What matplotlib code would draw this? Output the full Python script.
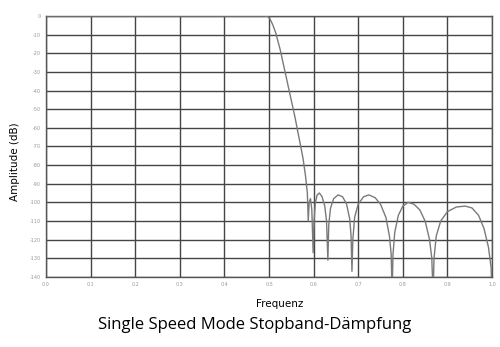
import numpy as np
import matplotlib.pyplot as plt

# Frequenzgang (normierte Frequenz, Amplitude in dB)
freq = [0.0, 0.49, 0.497, 0.502, 0.508, 0.515, 0.525, 0.536, 0.547, 0.558, 0.567,
        0.576, 0.582, 0.586, 0.588, 0.590, 0.593, 0.596, 0.599,
        0.601, 0.604, 0.608, 0.613, 0.619, 0.625, 0.629, 0.632,
        0.634, 0.638, 0.645, 0.655, 0.665, 0.674, 0.681, 0.684, 0.686,
        0.688, 0.692, 0.700, 0.712, 0.724, 0.738, 0.750, 0.762, 0.770, 0.774, 0.776,
        0.778, 0.782, 0.790, 0.800, 0.812, 0.825, 0.838, 0.850, 0.860, 0.865, 0.868,
        0.870, 0.875, 0.885, 0.900, 0.920, 0.940, 0.955, 0.970, 0.982, 0.992, 0.998, 1.0]
amp_db = [0, 0, -0.3, -1.5, -4.5, -9, -18, -30, -42, -54, -65,
          -76, -86, -95, -110, -100, -98, -104, -127,
          -110, -100, -96, -95, -97, -102, -110, -131,
          -112, -103, -98, -96, -97, -101, -109, -118, -137,
          -120, -108, -101, -97, -96, -97.5, -101, -108, -118, -128, -150,
          -128, -116, -107, -102, -100, -101, -104, -110, -120, -130, -150,
          -130, -118, -110, -105, -102.5, -102, -103, -107, -114, -124, -135, -150]

x_ticks = [0.0, 0.1, 0.2, 0.3, 0.4, 0.5, 0.6, 0.7, 0.8, 0.9, 1.0]
y_ticks = [0, -10, -20, -30, -40, -50, -60, -70, -80, -90, -100, -110, -120, -130, -140]

fig = plt.figure(figsize=(5.0, 3.47), dpi=100)
ax = fig.add_axes([0.092, 0.202, 0.892, 0.752])

ax.plot(freq, amp_db, color='#7a7a7a', lw=1.0, zorder=3)

ax.set_xlim(0, 1.0)
ax.set_ylim(-140, 0)
ax.set_xticks(x_ticks)
ax.set_yticks(y_ticks)
ax.set_xticklabels([f'{v:.1f}' for v in x_ticks])
ax.set_yticklabels([str(v) for v in y_ticks])
ax.tick_params(labelsize=3.5, labelcolor='#999999', length=0, pad=4)
ax.grid(True, color='#454545', lw=1.0, zorder=0)
for s in ax.spines.values():
    s.set_color('#555555')
    s.set_linewidth(1.0)

ax.set_xlabel('Frequenz', fontsize=7.5)
ax.xaxis.set_label_coords(0.523, -0.085)
ax.set_ylabel('Amplitude (dB)', fontsize=7.5)
ax.yaxis.set_label_coords(-0.058, 0.44)
fig.text(0.51, 0.063, 'Single Speed Mode Stopband-Dämpfung', ha='center',
         va='center', fontsize=12, family='Open Sans')

fig.savefig('out.png', dpi=100)
